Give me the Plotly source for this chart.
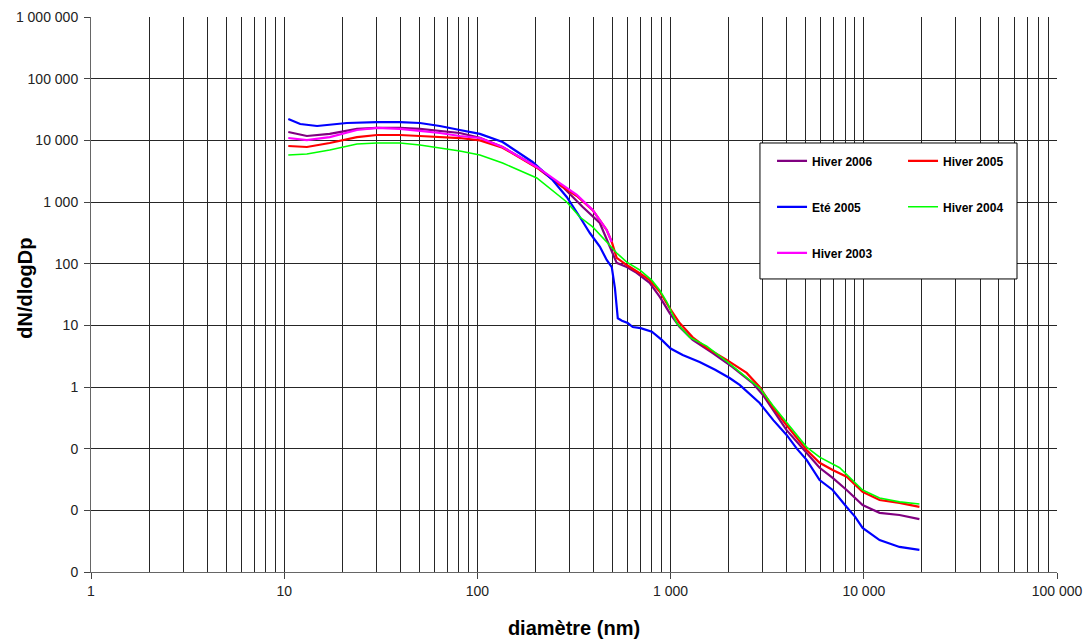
import plotly.graph_objects as go

# ---------------- data ----------------
series_names = ["Hiver 2006", "Hiver 2005", "Eté 2005", "Hiver 2004", "Hiver 2003"]

x_hiver2006 = [10.5, 13.1, 17.2, 23.8, 30.2, 39.7, 50.4, 63.9, 81.1, 103, 135, 203, 277, 351, 430,
               526, 593, 667, 779, 879, 989, 1114, 1301, 1652, 2094, 2660, 3000, 3985, 5058, 5906,
               6900, 8150, 9860, 12070, 15300, 19400]
y_hiver2006 = [13650, 11750, 12700, 15300, 15900, 15900, 15300, 14200, 13150, 11000, 7800, 3700, 1750, 830, 457,
               103, 88, 71, 49, 29, 15.8, 9.4, 5.8, 3.56, 2.1, 1.16, 0.75, 0.2, 0.085, 0.049,
               0.0335, 0.0214, 0.0122, 0.0091, 0.0084, 0.0072]

x_hiver2005 = [10.5, 13.1, 17.2, 23.8, 30.2, 39.7, 50.4, 63.9, 81.1, 103, 135, 203, 277, 327, 395,
               467, 496, 526, 593, 692, 779, 879, 989, 1114, 1301, 1538, 1951, 2475, 2890, 3400,
               3985, 5058, 5906, 6900, 8150, 9860, 12070, 15300, 19400]
y_hiver2005 = [8100, 7800, 9060, 11300, 12200, 12200, 11750, 11300, 10900, 10000, 7600, 3600, 1750, 1250, 740,
               350, 225, 124, 95, 70, 54, 35, 19, 10.9, 6.4, 4.3, 2.75, 1.69, 1.0, 0.46,
               0.24, 0.095, 0.059, 0.045, 0.035, 0.02, 0.0147, 0.0132, 0.0114]

x_ete2005 = [10.5, 12.1, 14.8, 21.1, 30.2, 39.7, 50.4, 63.9, 81.1, 103, 135, 193, 245, 290, 339,
             382, 430, 467, 496, 515, 533, 560, 600, 637, 700, 752, 800, 900, 1000, 1155,
             1413, 1700, 2020, 2277, 2600, 2890, 3400, 3985, 4500, 5058, 5906, 6900, 8150, 9000,
             9860, 11000, 12070, 15300, 19400]
y_ete2005 = [22200, 18400, 17100, 19100, 19800, 19800, 19100, 17100, 14700, 12700, 9400, 4460, 2280, 1205, 571,
             314, 190, 115, 88, 40, 13, 11.9, 10.9, 9.4, 9.0, 8.4, 7.9, 5.8, 4.2, 3.3,
             2.55, 1.9, 1.4, 1.08, 0.75, 0.55, 0.29, 0.167, 0.1, 0.066, 0.031, 0.0214, 0.0113, 0.0079,
             0.0052, 0.004, 0.0033, 0.00255, 0.00228]

x_hiver2004 = [10.5, 13.1, 17.2, 23.8, 30.2, 39.7, 50.4, 63.9, 81.1, 103, 135, 203, 290, 339, 395,
               467, 526, 593, 692, 798, 879, 955, 1075, 1256, 1538, 1951, 2475, 2890, 3400, 3985,
               5058, 5906, 7500, 9860, 12070, 15300, 19400]
y_hiver2004 = [5780, 6000, 6970, 8730, 9060, 9060, 8400, 7520, 6710, 5780, 4290, 2450, 1000, 571, 394,
               225, 149, 106, 79, 54, 37, 24, 10.9, 6.4, 4.6, 2.6, 1.4, 0.96, 0.49, 0.27,
               0.106, 0.073, 0.049, 0.0214, 0.0159, 0.0137, 0.0127]

x_hiver2003 = [10.5, 13.1, 17.2, 23.8, 30.2, 39.7, 50.4, 63.9, 81.1, 103, 135, 203, 267, 327, 395, 467, 496]
y_hiver2003 = [10900, 10100, 11300, 14700, 15900, 15300, 14200, 13150, 11750, 10900, 7800, 3700, 2030, 1300, 742, 352, 225]

x_tickvals = [1, 10, 100, 1000, 10000, 100000]
x_ticktext = ["1", "10", "100", "1 000", "10 000", "100 000"]
y_tickvals = [0.001, 0.01, 0.1, 1, 10, 100, 1000, 10000, 100000, 1000000]
y_ticktext = ["0", "0", "0", "1", "10", "100", "1 000", "10 000", "100 000", "1 000 000"]
x_minor = [m * d for d in [1, 10, 100, 1000, 10000] for m in range(2, 10)]

# ---------------- figure ----------------
FONT = "Liberation Sans, Arial, sans-serif"
grid = "#262626"

traces = [
    (series_names[0], x_hiver2006, y_hiver2006, "#800080", 2.2, "legend"),
    (series_names[1], x_hiver2005, y_hiver2005, "#FF0000", 2.2, "legend2"),
    (series_names[2], x_ete2005, y_ete2005, "#0000FF", 2.2, "legend"),
    (series_names[3], x_hiver2004, y_hiver2004, "#00FF00", 1.6, "legend2"),
    (series_names[4], x_hiver2003, y_hiver2003, "#FF00FF", 2.2, "legend"),
]

fig = go.Figure()
for i, (name, xs, ys, col, w, leg) in enumerate(traces):
    fig.add_trace(go.Scatter(
        x=xs, y=ys, mode="lines", name=name,
        line=dict(color=col, width=w),
        legend=leg, legendgroup=f"g{i}",
    ))

legend_common = dict(
    bgcolor="rgba(0,0,0,0)", borderwidth=0,
    font=dict(family=FONT, size=12, color="#000000", weight="bold"),
    tracegroupgap=27, xanchor="left", yanchor="top", itemwidth=30,
)

fig.update_layout(
    width=1084, height=639,
    margin=dict(l=91, r=27, t=17, b=67, autoexpand=False),
    paper_bgcolor="white", plot_bgcolor="white",
    font=dict(family=FONT, color="#222222"),
    showlegend=True,
    legend=dict(x=0.705, y=0.767, **legend_common),
    legend2=dict(x=0.8406, y=0.767, **legend_common),
    shapes=[dict(type="rect", xref="paper", yref="paper",
                 x0=0.6925, x1=0.9586, y0=0.528, y1=0.773,
                 line=dict(color="#000000", width=1), fillcolor="white", layer="above")],
    annotations=[dict(text="dN/dlogDp", xref="paper", yref="paper",
                      x=-0.0685, y=0.512, xanchor="center", yanchor="middle",
                      textangle=-90, showarrow=False,
                      font=dict(family=FONT, size=20, color="#000000", weight="bold"))],
)

fig.update_xaxes(
    type="log", range=[0, 5], automargin=False,
    tickmode="array", tickvals=x_tickvals, ticktext=x_ticktext,
    tickfont=dict(family=FONT, size=14, color="#222222"),
    ticks="outside", ticklen=6, tickcolor="#444444",
    showgrid=True, gridcolor=grid, gridwidth=1,
    minor=dict(tickvals=x_minor, showgrid=True, gridcolor=grid, gridwidth=1, ticks=""),
    showline=True, linecolor="#666666", linewidth=1,
    zeroline=False,
    title=dict(text="diamètre (nm)", font=dict(family=FONT, size=20, color="#000000", weight="bold"),
               standoff=24),
)
fig.update_yaxes(
    type="log", range=[-3, 6], automargin=False,
    tickmode="array", tickvals=y_tickvals, ticktext=y_ticktext,
    tickfont=dict(family=FONT, size=14, color="#222222"),
    ticks="outside", ticklen=6, tickcolor="#444444", ticklabelstandoff=3,
    showgrid=True, gridcolor=grid, gridwidth=1,
    showline=True, linecolor="#666666", linewidth=1,
    zeroline=False,
)

fig.write_html("out.html", config={"displayModeBar": False},
               post_script="document.body.style.margin='0';")
